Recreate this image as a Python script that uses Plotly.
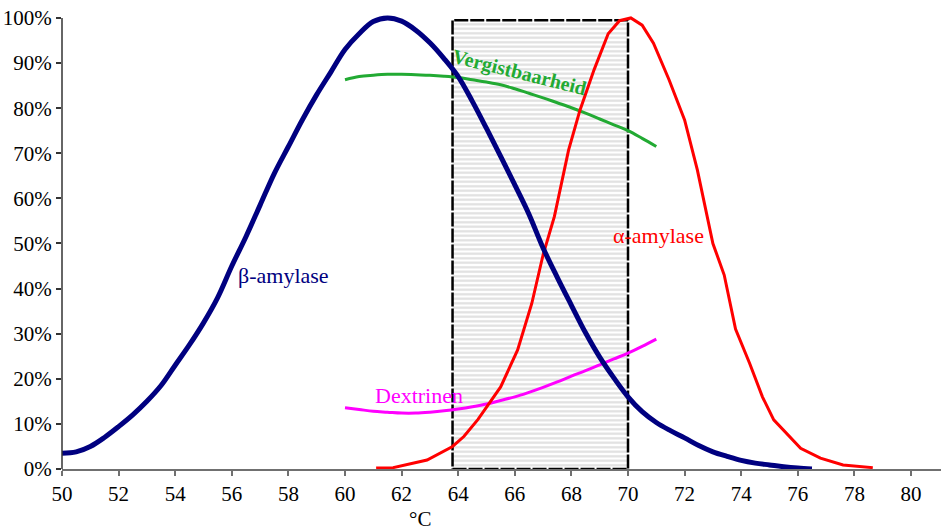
import plotly.graph_objects as go

# ---- data ----
beta_T = [50, 50.5, 51, 51.5, 52, 52.5, 53, 53.5, 54, 54.5, 55, 55.5, 56, 56.5, 57, 57.5, 58, 58.5,
          59, 59.5, 60, 60.5, 61, 61.5, 62, 62.5, 63, 63.5, 64, 64.5, 65, 65.5, 66, 66.5, 67, 67.5,
          68, 68.5, 69, 69.5, 70, 70.5, 71, 71.5, 72, 72.5, 73, 73.5, 74, 74.5, 75, 75.5, 76, 76.5]
beta_v = [3.5, 3.8, 5.0, 7.0, 9.4, 12.0, 15.0, 18.5, 23.0, 27.5, 32.4, 38.0, 45.0, 51.5, 58.5, 65.5,
          71.5, 77.5, 83.0, 88.0, 93.0, 96.5, 99.2, 100.0, 99.3, 97.3, 94.5, 91.0, 87.0, 81.5, 75.5,
          69.3, 63.0, 56.5, 49.0, 42.5, 36.3, 30.2, 24.8, 20.2, 16.0, 12.7, 10.3, 8.5, 6.9, 5.2, 3.8,
          2.8, 1.9, 1.3, 0.9, 0.5, 0.2, 0.0]

alpha_T = [61.1, 61.7, 62.9, 63.8, 64.2, 64.7, 65.5, 66.1, 66.6, 67.0, 67.4, 67.9, 68.3,
           68.8, 69.3, 69.7, 70.1, 70.5, 70.9, 71.45, 72.0, 72.45, 73.0, 73.4, 73.8, 74.3, 74.75,
           75.15, 76.1, 76.8, 77.6, 78.65]
alpha_v = [0.2, 0.3, 2.0, 5.0, 7.2, 11.0, 18.2, 26.4, 36.7, 47.5, 56.0, 70.7, 79.5, 88.5, 96.5,
           99.4, 100.0, 98.4, 94.4, 86.3, 77.4, 66.3, 50.0, 43.0, 31.0, 23.4, 16.0, 10.9, 4.6, 2.4,
           0.9, 0.3]

verg_T = [60, 60.5, 61, 61.5, 62, 62.5, 63, 63.5, 64, 64.5, 65, 65.5, 66, 66.5, 67, 67.5, 68, 68.5,
          69, 69.5, 70, 70.5, 71]
verg_v = [86.3, 87.0, 87.3, 87.5, 87.5, 87.4, 87.3, 87.1, 86.8, 86.3, 85.8, 85.2, 84.3, 83.3, 82.3,
          81.2, 80.1, 78.9, 77.6, 76.3, 75.0, 73.3, 71.5]

dext_T = verg_T
dext_v = [13.6, 13.2, 12.8, 12.6, 12.4, 12.4, 12.6, 12.9, 13.3, 13.8, 14.4, 15.2, 16.0, 17.0, 18.1,
          19.3, 20.6, 21.8, 23.1, 24.4, 25.7, 27.2, 28.8]

mash_range = [63.8, 70.0]   # shaded temperature window (°C)
mash_top = 99.5

x_ticks = list(range(50, 82, 2))
y_ticks = list(range(0, 101, 10))
y_ticktext = [f"{v}%" for v in y_ticks]

FONT = "Liberation Serif"

fig = go.Figure()

# shaded window
fig.add_trace(go.Scatter(
    x=[mash_range[0], mash_range[1], mash_range[1], mash_range[0], mash_range[0]],
    y=[0, 0, mash_top, mash_top, 0],
    mode="lines", fill="toself",
    fillcolor="white",
    fillpattern=dict(shape="-", fgcolor="#c2c2c2", bgcolor="white", size=4.5, solidity=0.5),
    line=dict(color="black", width=2.5, dash="14px,2px"),
    hoverinfo="skip", showlegend=False))

fig.add_trace(go.Scatter(x=dext_T, y=dext_v, mode="lines", line=dict(color="#ff00ff", width=3, shape="spline"), showlegend=False))
fig.add_trace(go.Scatter(x=verg_T, y=verg_v, mode="lines", line=dict(color="#22aa33", width=3, shape="spline"), showlegend=False))
fig.add_trace(go.Scatter(x=alpha_T, y=alpha_v, mode="lines", line=dict(color="#ff0000", width=3), showlegend=False))
fig.add_trace(go.Scatter(x=beta_T, y=beta_v, mode="lines", line=dict(color="#000080", width=5, shape="spline"), showlegend=False))

annots = [
    dict(x=57.82, y=42.8, text="β-amylase", color="#000080", angle=0, size=22),
    dict(x=71.08, y=51.7, text="α-amylase", color="#ff0000", angle=0, size=22),
    dict(x=62.61, y=16.2, text="Dextrinen", color="#ff00ff", angle=0, size=22),
    dict(x=66.17, y=88.0, text="<b>Vergistbaarheid</b>", color="#22aa33", angle=14, size=20),
]
for a in annots:
    fig.add_annotation(x=a["x"], y=a["y"], xref="x", yref="y", text=a["text"], showarrow=False,
                       textangle=a["angle"], font=dict(family=FONT, size=a["size"], color=a["color"]))

fig.add_annotation(x=62.66, y=0, xref="x", yref="paper", yshift=-50, yanchor="middle", text="°C",
                   showarrow=False, font=dict(family=FONT, size=21, color="black"))

# y axis line from 0 to 100 only
fig.add_shape(type="line", xref="paper", yref="y", x0=0, x1=0, y0=0, y1=100,
              line=dict(color="#333333", width=1.5))

fig.update_layout(
    width=944, height=531,
    margin=dict(l=62, r=3, t=13, b=62),
    plot_bgcolor="white", paper_bgcolor="white",
    font=dict(family=FONT, size=20, color="black"),
    xaxis=dict(range=[50, 81.06], tickvals=x_ticks, showgrid=False, zeroline=False,
               showline=True, linecolor="#707070", linewidth=1.5,
               ticks="outside", ticklen=5, tickcolor="#707070", tickwidth=1.5,
               tickfont=dict(family=FONT, size=21)),
    yaxis=dict(range=[0, 101.1], tickvals=y_ticks, ticktext=y_ticktext, showgrid=False, zeroline=False,
               showline=False, ticks="outside", ticklen=5, tickcolor="#333333", tickwidth=1.5,
               tickfont=dict(family=FONT, size=21)),
)

fig.write_html("out.html", config={"displayModeBar": False},
               post_script="document.body.style.margin='0';document.body.style.overflow='hidden';")
